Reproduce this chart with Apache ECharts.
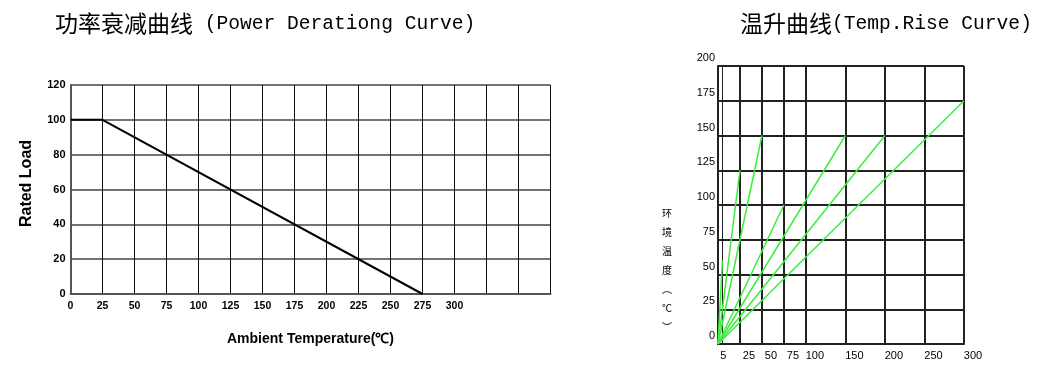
<!DOCTYPE html>
<html>
<head>
<meta charset="utf-8">
<script src="https://cdn.jsdelivr.net/npm/echarts@6/dist/echarts.min.js"></script>
<style>html,body{margin:0;padding:0;background:#fff}#c{width:1060px;height:371px}</style>
</head>
<body>
<div id="c"></div>
<script>
// ---- Power derating curve (left) ----
const DERATE_TEMP = [0, 25, 275];
const DERATE_LOAD = [100, 100, 0];
const DERATE_X_MAX = 375;
const DERATE_X_LABEL_MAX = 300;

// ---- Temperature rise curves (right) ----
const RISE_X_TICKS = [5, 25, 50, 75, 100, 150, 200, 250, 300];
const RISE_END_X = [5, 25, 50, 75, 150, 200, 300];
const RISE_END_Y = [60, 125, 150, 100, 150, 150, 175];

// two-segment x scale of the right chart (narrower spacing above 100)
const BREAK = 100, WIDE = 0.9;
const u = v => v <= BREAK ? v : BREAK + (v - BREAK) * WIDE;
const uInv = w => w <= BREAK ? w : BREAK + (w - BREAK) / WIDE;

const CJK = '"Noto Sans CJK SC", sans-serif';
const MONO = '"Liberation Mono", "DejaVu Sans Mono", monospace';
const SANS = '"Liberation Sans", Arial, sans-serif';

const chart = echarts.init(document.getElementById('c'));

const riseSeries = RISE_END_X.map((x, i) => ({
  type: 'line', xAxisIndex: 1, yAxisIndex: 1,
  data: [[u(0), 0], [u(x), RISE_END_Y[i]]],
  showSymbol: false, symbol: 'none', silent: true, z: 5,
  lineStyle: { color: '#3cee3c', width: 1.5 }
}));

const titleRich = {
  c: { fontFamily: CJK, fontSize: 23, fontWeight: 'normal', color: '#000' },
  l: { fontFamily: MONO, fontSize: 19.6, fontWeight: 'normal', color: '#000' }
};

chart.setOption({
  animation: false,
  title: [
    { left: 55, top: 12, padding: 0, text: '{c|功率衰减曲线}{l| (Power Derationg Curve)}',
      textStyle: { fontWeight: 'normal', rich: titleRich } },
    { left: 740, top: 12, padding: 0, text: '{c|温升曲线}{l|(Temp.Rise Curve)}',
      textStyle: { fontWeight: 'normal', rich: titleRich } }
  ],
  graphic: [{
    type: 'text', left: 662, top: 204,
    style: { text: '环\n境\n温\n度\n︵\n℃\n︶', font: '10px ' + CJK, lineHeight: 19, fill: '#000', align: 'center' }
  }],
  grid: [
    { left: 70.5, top: 85, width: 480, height: 209 },
    { left: 718, top: 66, width: 246, height: 278 }
  ],
  xAxis: [
    { gridIndex: 0, type: 'value', min: 0, max: DERATE_X_MAX, interval: 25,
      axisLine: { lineStyle: { color: '#555', width: 2 } },
      axisTick: { show: false },
      axisLabel: { margin: 7, fontFamily: SANS, fontWeight: 'bold', fontSize: 10.5, color: '#000',
        showMaxLabel: false,
        formatter: v => v <= DERATE_X_LABEL_MAX ? String(v) : '' },
      splitLine: { show: true, lineStyle: { color: '#111', width: 1 } },
      name: 'Ambient Temperature(℃)', nameLocation: 'middle', nameGap: 38,
      nameTextStyle: { fontFamily: SANS, fontWeight: 'bold', fontSize: 14, color: '#000' } },
    { gridIndex: 1, type: 'value', min: 0, max: u(300),
      axisLine: { lineStyle: { color: '#222', width: 2 } },
      axisTick: { show: false },
      splitLine: { show: false },
      axisLabel: { margin: 6, color: '#000', showMinLabel: true, showMaxLabel: true,
        customValues: RISE_X_TICKS.map(u),
        formatter: (w) => {
          const v = Math.round(uInv(w));
          return v === RISE_X_TICKS[0] ? '{f|' + v + '}' : '{s|' + v + '}';
        },
        rich: {
          f: { fontFamily: SANS, fontSize: 11, color: '#000', padding: [0, 0, 0, 2] },
          s: { fontFamily: SANS, fontSize: 11, color: '#000', padding: [0, 0, 0, 18] }
        } } }
  ],
  yAxis: [
    { gridIndex: 0, type: 'value', min: 0, max: 120, interval: 20,
      axisLine: { show: true, lineStyle: { color: '#555', width: 2 } },
      axisTick: { show: false },
      axisLabel: { margin: 5, fontFamily: SANS, fontWeight: 'bold', fontSize: 11, color: '#000' },
      splitLine: { show: true, lineStyle: { color: '#444', width: 1.5 } },
      name: 'Rated Load', nameLocation: 'middle', nameGap: 36, nameRotate: 90,
      nameTextStyle: { fontFamily: SANS, fontWeight: 'bold', fontSize: 16, color: '#000', padding: [0, 0, 0, 12] } },
    { gridIndex: 1, type: 'value', min: 0, max: 200, interval: 25,
      axisLine: { show: true, lineStyle: { color: '#222', width: 2 } },
      axisTick: { show: false },
      axisLabel: { margin: 3, color: '#000',
        formatter: v => '{a|' + v + '}',
        rich: { a: { fontFamily: SANS, fontSize: 11, color: '#000', padding: [0, 0, 16, 0] } } },
      splitLine: { show: true, lineStyle: { color: '#222', width: 2 } } }
  ],
  series: [
    { type: 'line', xAxisIndex: 0, yAxisIndex: 0,
      data: DERATE_TEMP.map((t, i) => [t, DERATE_LOAD[i]]),
      showSymbol: false, symbol: 'none', silent: true, z: 5,
      lineStyle: { color: '#000', width: 2 } },
    { type: 'line', xAxisIndex: 1, yAxisIndex: 1, data: [[0, 0]],
      showSymbol: false, symbol: 'none', silent: true, z: 1,
      lineStyle: { width: 0 },
      markLine: { silent: true, symbol: 'none', animation: false,
        label: { show: false },
        lineStyle: { color: '#222', width: 2, type: 'solid' },
        data: RISE_X_TICKS.map(t => ({ xAxis: u(t),
          lineStyle: { color: '#222', width: t === RISE_X_TICKS[0] ? 1 : 2, type: 'solid' } })) } },
    ...riseSeries
  ]
});
</script>
</body>
</html>
